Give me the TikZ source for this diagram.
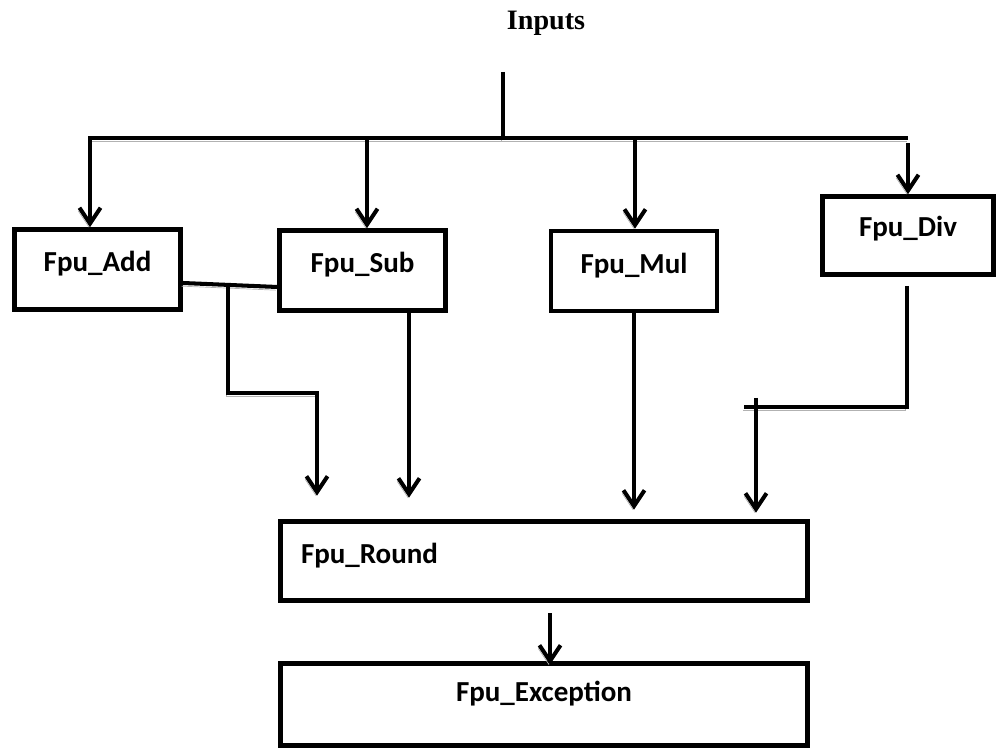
\documentclass[tikz,border=0pt]{standalone}
\usepackage{fontspec}
\setmainfont{Liberation Serif}
\newfontfamily\unitfont{Carlito}
\usetikzlibrary{arrows.meta}

\tikzset{
    unit/.style={draw, line width=2.6pt, minimum width=3.32cm, minimum height=1.6cm,
        font=\unitfont\bfseries\fontsize{16.5}{19}\selectfont, text height=0.36cm, text depth=0.26cm},
    wire/.style={line width=2.3pt, preaction={draw=gray!60, transform canvas={shift={(-0.7pt,-1.8pt)}}}},
    conn/.style={wire, -{Straight Barb[length=9pt,width=12pt]}},
}

\begin{document}
\begin{tikzpicture}
    \useasboundingbox (0,0) rectangle (20.04,15.02);

    \node[font=\bfseries\fontsize{16}{19}\selectfont, anchor=base] (inputs) at (10.92,14.42) {Inputs};

    \node[unit] (add) at (1.95, 9.63) {Fpu\_Add};
    \node[unit] (sub) at (7.25, 9.61) {Fpu\_Sub};
    \node[unit] (mul) at (12.68, 9.60) {Fpu\_Mul};
    \node[unit, minimum width=3.42cm, minimum height=1.56cm, text depth=0.32cm] (div) at (18.16, 10.31) {Fpu\_Div};
    \node[unit, minimum height=1.58cm, text width=9.72cm, inner xsep=0.41cm, align=left] (round) at (10.88, 3.80) {Fpu\_Round};
    \node[unit, minimum width=10.54cm, minimum height=1.64cm, text depth=0.46cm] (exc) at (10.88, 0.93) {Fpu\_Exception};

    % input bus
    \coordinate (in) at (10.06,13.58);
    \coordinate (busL) at (1.80,12.26);
    \coordinate (busS) at (7.34,12.26);
    \coordinate (busM) at (12.70,12.26);
    \coordinate (busR) at (18.16,12.26);
    \draw[wire] (in) -- (in |- busL);
    \draw[conn] (busR) -- (busL) -- (busL |- add.north);
    \draw[conn] (busS) -- (busS |- sub.north);
    \draw[conn] (busM) -- (busM |- mul.north);
    \draw[conn, shorten <=3pt] (busR) -- (div.north);

    % add and sub into round
    \coordinate (addout) at ([yshift=-0.27cm]add.east);
    \coordinate (subin) at ([yshift=-0.33cm]sub.west);
    \draw[wire] (addout) -- (subin);
    \coordinate (j1) at (4.56,9.30);
    \coordinate (bend) at (6.34,7.16);
    \draw[conn, shorten >=0.47cm] (j1) |- (bend) -- (bend |- round.north);
    \coordinate (subout) at ([xshift=0.93cm]sub.south);
    \draw[conn, shorten >=0.43cm] (subout) -- (subout |- round.north);

    % mul and div into round
    \draw[conn, shorten >=0.19cm] (mul.south) -- (mul.south |- round.north);
    \coordinate (divout) at (18.14,9.30);
    \coordinate (divturn) at (14.88,6.88);
    \draw[wire] (divout) |- (divturn);
    \coordinate (divdrop) at (15.12,7.06);
    \draw[conn, shorten >=0.13cm] (divdrop) -- (divdrop |- round.north);

    % round to exception
    \coordinate (rndout) at ([xshift=0.12cm]round.south);
    \draw[conn, shorten <=0.21cm, shorten >=-0.07cm] (rndout) -- (rndout |- exc.north);
\end{tikzpicture}
\end{document}
